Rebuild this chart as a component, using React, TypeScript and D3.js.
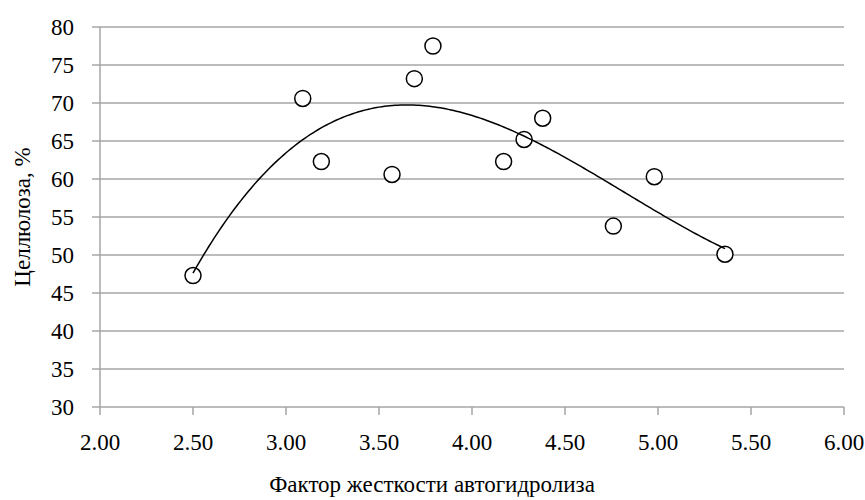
import React from "react";
import * as d3 from "d3";

const xValues = [2.5, 3.09, 3.19, 3.57, 3.69, 3.79, 4.17, 4.28, 4.38, 4.76, 4.98, 5.36];
const yValues = [47.3, 70.6, 62.3, 60.6, 73.2, 77.5, 62.3, 65.2, 68.0, 53.8, 60.3, 50.1];
const xTicks = [2, 2.5, 3, 3.5, 4, 4.5, 5, 5.5, 6];
const yTicks = [30, 35, 40, 45, 50, 55, 60, 65, 70, 75, 80];
const xTitle = "Фактор жесткости автогидролиза";
const yTitle = "Целлюлоза, %";
const trendOrder = 3;

function polyFit(xs: number[], ys: number[], order: number): number[] {
  const n = order + 1;
  const A: number[][] = Array.from({ length: n }, () => new Array(n + 1).fill(0));
  for (let k = 0; k < xs.length; k++) {
    for (let i = 0; i < n; i++) {
      for (let j = 0; j < n; j++) A[i][j] += Math.pow(xs[k], i + j);
      A[i][n] += ys[k] * Math.pow(xs[k], i);
    }
  }
  for (let i = 0; i < n; i++) {
    let p = i;
    for (let r = i + 1; r < n; r++) if (Math.abs(A[r][i]) > Math.abs(A[p][i])) p = r;
    [A[i], A[p]] = [A[p], A[i]];
    for (let r = 0; r < n; r++) {
      if (r === i) continue;
      const f = A[r][i] / A[i][i];
      for (let c = i; c <= n; c++) A[r][c] -= f * A[i][c];
    }
  }
  return A.map((row, i) => row[n] / row[i]);
}

export default function App() {
  const W = 865, H = 500;
  const x = d3.scaleLinear().domain([2, 6]).range([100, 844]);
  const y = d3.scaleLinear().domain([30, 80]).range([407, 27]);
  const coef = polyFit(xValues, yValues, trendOrder);
  const f = (v: number) => coef.reduce((s, c, i) => s + c * Math.pow(v, i), 0);
  const x0 = d3.min(xValues)!, x1 = d3.max(xValues)!;
  const curvePts: [number, number][] = d3.range(0, 201).map((i) => {
    const v = x0 + ((x1 - x0) * i) / 200;
    return [x(v), y(f(v))];
  });
  const line = d3.line().curve(d3.curveLinear)(curvePts) || "";
  const textStyle: React.CSSProperties = {
    fontFamily: '"Liberation Serif", "DejaVu Serif", serif',
    fontSize: "23px",
  };
  const grid = "#a6a6a6";
  return (
    <svg width={W} height={H} style={{ position: "absolute", left: 0, top: 0, background: "#fff" }}>
      {yTicks.map((t) => (
        <g key={"y" + t}>
          <line x1={92} x2={844} y1={y(t)} y2={y(t)} stroke={grid} strokeWidth={1.5} />
          <text x={74} y={y(t)} dy="0.35em" textAnchor="end" style={textStyle} fill="#000">
            {t}
          </text>
        </g>
      ))}
      <line x1={100} x2={100} y1={27} y2={407} stroke={grid} strokeWidth={1.5} />
      {xTicks.map((t) => (
        <g key={"x" + t}>
          <line x1={x(t)} x2={x(t)} y1={407} y2={415} stroke={grid} strokeWidth={1.5} />
          <text x={x(t)} y={450} textAnchor="middle" style={textStyle} fill="#000">
            {t.toFixed(2)}
          </text>
        </g>
      ))}
      {xValues.map((v, i) => (
        <circle key={"p" + i} cx={x(v)} cy={y(yValues[i])} r={8} fill="#fff" stroke="#000" strokeWidth={1.5} />
      ))}
      <path d={line} fill="none" stroke="#000" strokeWidth={1.5} />
      <text x={432} y={492} textAnchor="middle" style={textStyle} fill="#000">
        {xTitle}
      </text>
      <text transform={`translate(30, 217) rotate(-90)`} textAnchor="middle" style={textStyle} fill="#000">
        {yTitle}
      </text>
    </svg>
  );
}
